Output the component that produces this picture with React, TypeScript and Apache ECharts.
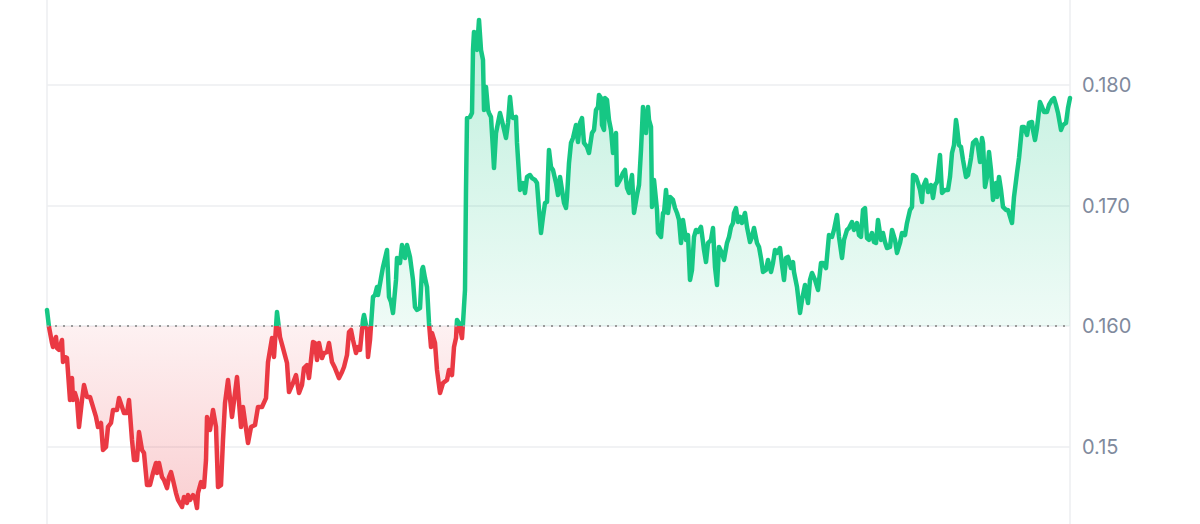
import React, { useEffect, useRef } from 'react';
import * as echarts from 'echarts';

// Price baseline (opening price) and y-axis tick labels
const BASELINE = 0.16;
const tickValues = [0.15, 0.16, 0.17, 0.18];
const tickLabels = ['0.15', '0.160', '0.170', '0.180'];
const TIME_SPAN = 10230; // minutes covered by the chart

// [minutes since start, price]
const segA: [number, number][] = [
  [0, 0.16133], [20, 0.15992], [50, 0.15859], [60, 0.15826], [90, 0.15909], [100, 0.15817], [120, 0.15801], [150, 0.15884],
  [160, 0.15701], [180, 0.15743], [200, 0.15734], [230, 0.15386], [250, 0.15568], [260, 0.15386], [280, 0.15444], [300, 0.15386],
  [320, 0.15162], [350, 0.15386], [370, 0.1551], [400, 0.15411], [430, 0.15411], [460, 0.15328], [490, 0.15245], [510, 0.15162],
  [540, 0.15195], [560, 0.14971], [590, 0.14996], [610, 0.15162], [640, 0.15195], [660, 0.15303], [700, 0.15303], [720, 0.15402],
  [750, 0.15328], [770, 0.15278], [800, 0.15278], [820, 0.15386], [850, 0.15054], [870, 0.14888], [900, 0.14888], [920, 0.1512],
  [950, 0.14971], [970, 0.14946], [1000, 0.1468], [1030, 0.1468], [1060, 0.1478], [1090, 0.14863], [1100, 0.1478], [1120, 0.14863],
  [1150, 0.14747], [1170, 0.14722], [1200, 0.14655], [1220, 0.14747], [1240, 0.14788], [1260, 0.14722], [1290, 0.14614], [1310, 0.14556],
  [1350, 0.14498], [1370, 0.14581], [1400, 0.14531], [1410, 0.14597], [1430, 0.14556], [1460, 0.14597], [1480, 0.14572], [1500, 0.14489],
  [1510, 0.14614], [1540, 0.14705], [1560, 0.14664], [1570, 0.14664], [1590, 0.14888], [1600, 0.15245], [1630, 0.15137], [1660, 0.15303],
  [1690, 0.15162], [1710, 0.14664], [1740, 0.1468], [1760, 0.15054], [1780, 0.15361], [1810, 0.15552],
];
const segB: [number, number][] = [
  [1850, 0.15245], [1900, 0.15577], [1940, 0.15162], [1960, 0.15328], [2010, 0.15029], [2040, 0.15162], [2080, 0.15178],
  [2110, 0.15328], [2150, 0.15328], [2190, 0.15402], [2210, 0.15701], [2250, 0.159], [2270, 0.15743], [2300, 0.16116],
];
const segC: [number, number][] = [
  [2330, 0.15909], [2360, 0.15817], [2400, 0.15693], [2420, 0.15452], [2460, 0.15527], [2490, 0.15593], [2520, 0.15444], [2550, 0.1551],
  [2570, 0.15651], [2600, 0.15676], [2620, 0.15568], [2660, 0.15867], [2680, 0.15859], [2700, 0.15718], [2720, 0.15859], [2750, 0.15734],
  [2770, 0.15776], [2800, 0.15784], [2820, 0.15859], [2850, 0.15701], [2880, 0.15651], [2920, 0.15568], [2950, 0.15618], [2970, 0.1566],
  [3000, 0.15759], [3020, 0.1595], [3040, 0.15967], [3060, 0.15884], [3090, 0.15776], [3110, 0.15826], [3130, 0.15801], [3160, 0.1605],
  [3170, 0.16091], [3200, 0.15967], [3210, 0.15743], [3230, 0.15884], [3260, 0.16241], [3280, 0.16257], [3300, 0.16324], [3310, 0.16257],
  [3340, 0.16398], [3360, 0.1649], [3400, 0.16631], [3420, 0.16241], [3440, 0.16199], [3460, 0.16108], [3490, 0.16382], [3500, 0.16564],
  [3530, 0.16523], [3550, 0.16672], [3580, 0.16564], [3600, 0.16672], [3630, 0.16573], [3660, 0.16382], [3680, 0.16158], [3700, 0.16133],
  [3730, 0.16149], [3750, 0.16465], [3760, 0.1649], [3780, 0.16398], [3800, 0.16324], [3820, 0.16025], [3840, 0.15826], [3850, 0.15942],
  [3880, 0.15859], [3900, 0.15635], [3930, 0.15444], [3960, 0.15527], [4000, 0.15552], [4020, 0.15635], [4050, 0.15593], [4070, 0.15826],
  [4090, 0.159], [4100, 0.1605], [4120, 0.16025], [4150, 0.159], [4160, 0.16025], [4180, 0.16299], [4190, 0.17129],
];
const segD: [number, number][] = [
  [4200, 0.17726], [4230, 0.17735], [4250, 0.17768], [4260, 0.18291], [4270, 0.1844], [4290, 0.18432], [4300, 0.18291], [4320, 0.1854],
  [4340, 0.18291], [4360, 0.18208], [4370, 0.17793], [4390, 0.17984], [4410, 0.17793], [4420, 0.17768], [4440, 0.17735], [4460, 0.17461],
  [4470, 0.17311], [4490, 0.17602], [4510, 0.17685], [4530, 0.17768], [4560, 0.17668], [4590, 0.1756], [4610, 0.17685], [4630, 0.17901],
  [4650, 0.17735], [4660, 0.17726], [4690, 0.17735], [4700, 0.17519], [4730, 0.17129], [4760, 0.17187], [4780, 0.17104], [4800, 0.17237],
  [4830, 0.17253], [4850, 0.17228], [4880, 0.17212], [4900, 0.17187], [4920, 0.16963], [4940, 0.16772], [4960, 0.16905], [4980, 0.17021],
  [5000, 0.17029], [5020, 0.17461], [5040, 0.1732], [5060, 0.17295], [5090, 0.17187], [5110, 0.17087], [5130, 0.17237], [5150, 0.17129],
  [5170, 0.17021], [5190, 0.16979], [5200, 0.17071], [5220, 0.17353], [5240, 0.17519], [5260, 0.1756], [5290, 0.17668], [5310, 0.17527],
  [5330, 0.17685], [5350, 0.17726], [5370, 0.17519], [5400, 0.17486], [5420, 0.17436], [5450, 0.17602], [5470, 0.17627], [5490, 0.17793],
  [5510, 0.17818], [5520, 0.17917], [5540, 0.17892], [5550, 0.17668], [5570, 0.17627], [5580, 0.17892], [5600, 0.17876], [5620, 0.1771],
  [5640, 0.17627], [5660, 0.17436], [5690, 0.17602], [5700, 0.1717], [5730, 0.17212], [5760, 0.1727], [5780, 0.17295], [5800, 0.17145],
  [5820, 0.17104],
];
const segE: [number, number][] = [
  [5850, 0.17253], [5870, 0.16938], [5900, 0.17087], [5920, 0.1717], [5940, 0.17461], [5960, 0.17818], [5970, 0.17735], [5990, 0.17602],
  [6010, 0.17818], [6020, 0.1771], [6040, 0.17652], [6050, 0.16988], [6070, 0.17212], [6100, 0.16963], [6110, 0.16772], [6140, 0.16739],
  [6160, 0.16938], [6170, 0.16938], [6190, 0.17129], [6210, 0.16938], [6230, 0.17071], [6260, 0.17046], [6280, 0.16979], [6300, 0.16938],
  [6320, 0.1688], [6340, 0.16689], [6360, 0.1688], [6390, 0.16714], [6410, 0.16755], [6430, 0.16382], [6450, 0.16465], [6470, 0.16739],
  [6490, 0.16797], [6510, 0.1678], [6540, 0.16822], [6560, 0.16697], [6570, 0.16631], [6590, 0.16531], [6610, 0.16689], [6640, 0.16714],
  [6660, 0.16813], [6680, 0.1649], [6700, 0.1634], [6720, 0.16656], [6750, 0.16606], [6770, 0.16548], [6800, 0.16689], [6820, 0.16739],
  [6840, 0.16822], [6860, 0.16855], [6870, 0.16938], [6890, 0.16979], [6910, 0.16863], [6930, 0.16905], [6950, 0.16855], [6980, 0.16938],
  [7000, 0.16822], [7030, 0.16697], [7050, 0.16739], [7070, 0.16813], [7100, 0.16689], [7120, 0.16656], [7140, 0.16564], [7160, 0.16448],
  [7190, 0.16465], [7210, 0.16548], [7240, 0.16448], [7260, 0.16523], [7280, 0.16631], [7300, 0.16606], [7330, 0.16647], [7350, 0.16506],
  [7370, 0.16382], [7390, 0.16564], [7410, 0.16573], [7440, 0.16481], [7460, 0.16531], [7470, 0.16448], [7500, 0.16324],
];
const segF: [number, number][] = [
  [7530, 0.16108], [7550, 0.16216], [7580, 0.1634], [7610, 0.16191], [7630, 0.16382], [7650, 0.1644], [7680, 0.16382], [7710, 0.16299],
  [7740, 0.16523], [7760, 0.16523], [7790, 0.16481], [7820, 0.16755], [7850, 0.16739], [7870, 0.16797], [7900, 0.16921], [7920, 0.16739],
  [7950, 0.16564], [7970, 0.16714], [8000, 0.16797], [8020, 0.16813], [8050, 0.16863], [8070, 0.16797], [8100, 0.16855], [8120, 0.16755],
  [8140, 0.16739], [8160, 0.16963], [8180, 0.16979], [8200, 0.1673], [8220, 0.16714], [8250, 0.16772], [8270, 0.16697], [8290, 0.16689],
  [8310, 0.1688], [8340, 0.16714], [8360, 0.16772], [8380, 0.16697], [8400, 0.16647], [8430, 0.16656], [8450, 0.16797], [8480, 0.16714],
  [8500, 0.16606], [8530, 0.16689], [8550, 0.16772], [8580, 0.16755], [8600, 0.16855], [8630, 0.16963], [8650, 0.16988], [8660, 0.17253],
  [8690, 0.17237], [8710, 0.17187], [8730, 0.17129], [8750, 0.17029], [8760, 0.17154], [8790, 0.17212], [8810, 0.17112], [8840, 0.1717],
  [8860, 0.17062], [8880, 0.1717], [8900, 0.17195], [8930, 0.17419], [8950, 0.17104], [8980, 0.17129], [9010, 0.17129], [9030, 0.17237],
  [9050, 0.17436], [9070, 0.17502], [9090, 0.1771],
];
const segG: [number, number][] = [
  [9100, 0.17652], [9120, 0.17502], [9140, 0.17486], [9160, 0.17378], [9190, 0.17237], [9210, 0.17253], [9240, 0.17394], [9260, 0.17519],
  [9290, 0.17544], [9310, 0.17486], [9330, 0.17361], [9350, 0.1756], [9360, 0.17519], [9380, 0.17154], [9400, 0.17237], [9420, 0.17444],
  [9440, 0.17295], [9460, 0.17046], [9490, 0.17187], [9500, 0.17071], [9520, 0.17237], [9540, 0.17129], [9560, 0.16988], [9590, 0.16963],
  [9610, 0.16963], [9640, 0.1688], [9650, 0.16855], [9670, 0.17071], [9700, 0.1727], [9720, 0.17394], [9750, 0.17652], [9770, 0.17652],
  [9800, 0.17585], [9820, 0.17685], [9850, 0.17693], [9860, 0.17627], [9880, 0.17544], [9900, 0.17643], [9930, 0.17859], [9950, 0.17818],
  [9970, 0.17776], [10000, 0.17776], [10020, 0.17834], [10050, 0.17876], [10070, 0.17892], [10090, 0.17834], [10110, 0.17768], [10140, 0.17627],
  [10160, 0.17668], [10190, 0.17685], [10210, 0.17809], [10230, 0.17892],
];

const pricePoints: [number, number][] = [...segA, ...segB, ...segC, ...segD, ...segE, ...segF, ...segG];

const GREEN = '#16c784';
const RED = '#ea3943';

export default function App() {
  const ref = useRef<HTMLDivElement>(null);
  useEffect(() => {
    document.body.style.margin = '0';
    const chart = echarts.init(ref.current!, null, { renderer: 'svg' });
    const upper = pricePoints.map(([t, p]) => [t, Math.max(p, BASELINE)]);
    const lower = pricePoints.map(([t, p]) => [t, Math.min(p, BASELINE)]);
    chart.setOption({
      animation: false,
      grid: { left: 47, right: 130, top: -35.5, bottom: -43, outerBoundsMode: 'none', containLabel: false },
      xAxis: {
        type: 'value',
        min: 0,
        max: TIME_SPAN,
        interval: TIME_SPAN,
        axisLine: { show: false },
        axisTick: { show: false },
        axisLabel: { show: false },
        splitLine: { show: true, lineStyle: { color: '#eceef1', width: 1.5 } },
      },
      yAxis: {
        type: 'value',
        position: 'right',
        min: 0.14,
        max: 0.19,
        interval: 0.01,
        axisLine: { show: false },
        axisTick: { show: false },
        splitLine: { show: true, lineStyle: { color: '#eceef1', width: 1.5 } },
        axisLabel: {
          margin: 12,
          color: '#808a9d',
          fontSize: 20,
          fontFamily: 'Inter',
          formatter: (v: number) => {
            const i = tickValues.findIndex((tv) => Math.abs(tv - v) < 1e-6);
            return i >= 0 ? tickLabels[i] : '';
          },
        },
      },
      visualMap: {
        show: false,
        type: 'piecewise',
        seriesIndex: 2,
        dimension: 1,
        pieces: [
          { gte: BASELINE, lte: 1, color: GREEN },
          { gte: 0, lt: BASELINE, color: RED },
        ],
      },
      series: [
        {
          type: 'line',
          data: upper,
          symbol: 'none',
          lineStyle: { width: 0 },
          areaStyle: {
            origin: BASELINE,
            color: new echarts.graphic.LinearGradient(0, 0, 0, 1, [
              { offset: 0, color: 'rgba(22,199,132,0.4)' },
              { offset: 1, color: 'rgba(22,199,132,0.1)' },
            ]),
          },
          silent: true,
          z: 1,
        },
        {
          type: 'line',
          data: lower,
          symbol: 'none',
          lineStyle: { width: 0 },
          areaStyle: {
            origin: BASELINE,
            color: new echarts.graphic.LinearGradient(0, 0, 0, 1, [
              { offset: 0, color: 'rgba(234,57,67,0.1)' },
              { offset: 1, color: 'rgba(234,57,67,0.34)' },
            ]),
          },
          silent: true,
          z: 1,
        },
        {
          type: 'line',
          data: pricePoints,
          symbol: 'none',
          lineStyle: { width: 4.5, join: 'round', cap: 'round' },
          z: 3,
          markLine: {
            silent: true,
            symbol: 'none',
            label: { show: false },
            lineStyle: { color: '#9a9a9a', width: 2, type: [2, 6] },
            data: [{ yAxis: BASELINE }],
          },
        },
      ],
    });
    return () => chart.dispose();
  }, []);
  return <div ref={ref} style={{ width: 1200, height: 524 }} />;
}
